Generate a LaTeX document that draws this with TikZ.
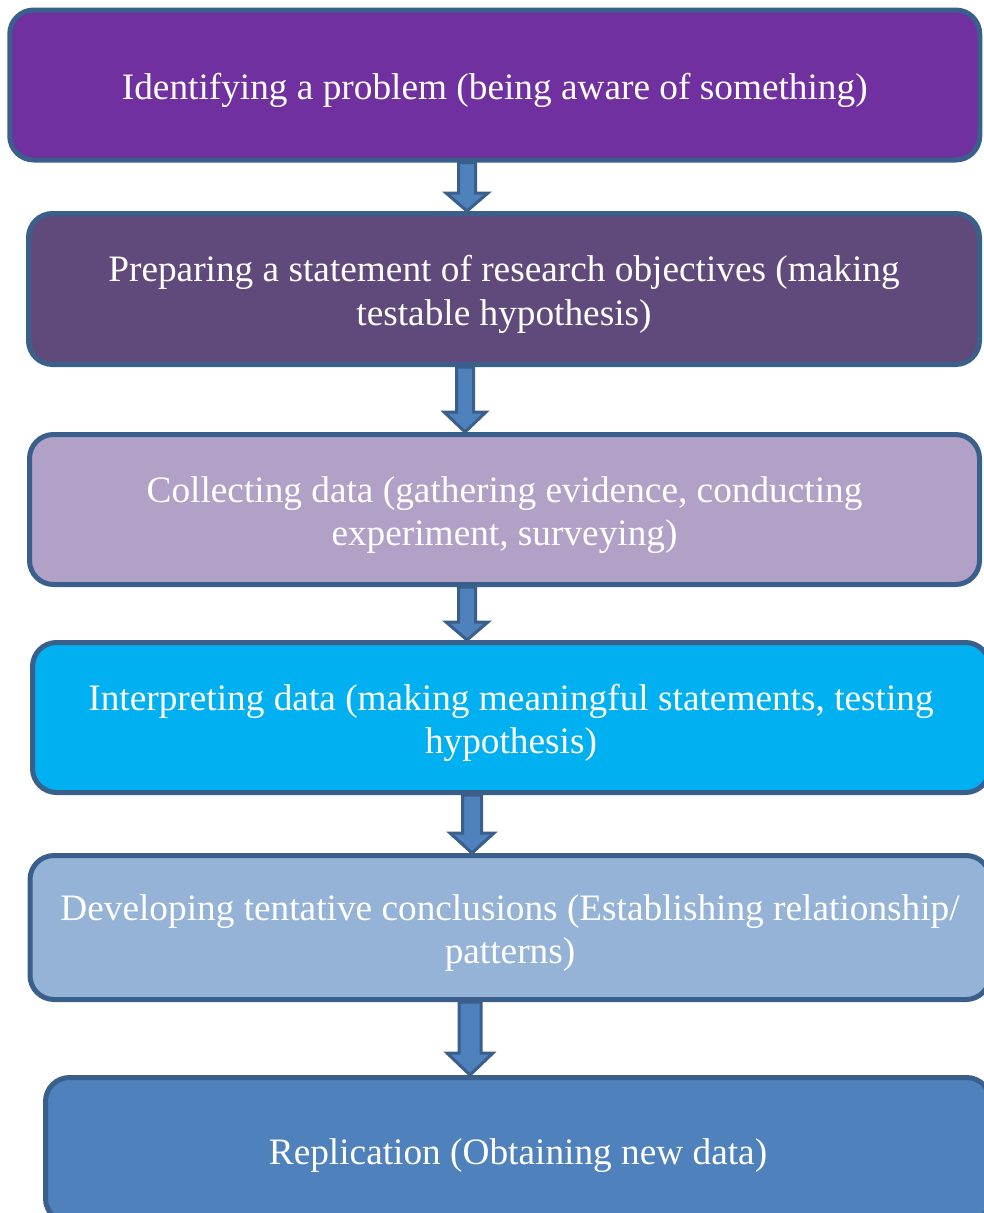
\documentclass[tikz,border=0pt]{standalone}
\usepackage{fontspec}
\setmainfont{Liberation Serif}
\usetikzlibrary{calc}
\definecolor{edge}{HTML}{3A5F8B}
\definecolor{c1}{HTML}{7030A0}
\definecolor{c2}{HTML}{604A7B}
\definecolor{c3}{HTML}{B2A1C7}
\definecolor{c4}{HTML}{00B0F0}
\definecolor{c5}{HTML}{95B3D7}
\definecolor{c6}{HTML}{4F81BD}
\newcommand\lowered[1]{\raisebox{-6pt}[\height][\depth]{\begin{tabular}{@{}c@{}}#1\end{tabular}}}
\tikzset{
  box/.style={draw=edge, line width=5pt, rounded corners=24pt, text=white,
    align=center, inner sep=0pt, font=\fontsize{37.3}{43.5}\selectfont},
  arrowsty/.style={draw=edge, fill=c6, line width=3pt, line join=miter}
}
\newcommand\blockarrow[6]{%
  \draw[arrowsty] let \p1=(#1.south), \p2=(#2.north) in
    (#3pt-#4pt,\y1) -- (#3pt-#4pt,\y2+#6pt) -- (#3pt-#5pt,\y2+#6pt) --
    (#3pt,\y2) -- (#3pt+#5pt,\y2+#6pt) -- (#3pt+#4pt,\y2+#6pt) --
    (#3pt+#4pt,\y1) -- cycle;}
\begin{document}
\begin{tikzpicture}[x=1pt,y=-1pt]
\useasboundingbox (0,0) rectangle (983,1213);
\node[box, fill=c1, minimum width=970pt, minimum height=150pt] (b1) at (494.75,85)
  {\lowered{Identifying a problem (being aware of something)}};
\node[box, fill=c2, minimum width=951pt, minimum height=151pt] (b2) at (504,289)
  {\lowered{Preparing a statement of research objectives (making\\testable hypothesis)}};
\node[box, fill=c3, minimum width=950pt, minimum height=150pt] (b3) at (504.5,509.5)
  {\lowered{Collecting data (gathering evidence, conducting\\experiment, surveying)}};
\node[box, fill=c4, minimum width=957pt, minimum height=150pt] (b4) at (511,717.5)
  {\lowered{Interpreting data (making meaningful statements, testing\\hypothesis)}};
\node[box, fill=c5, minimum width=960pt, minimum height=144pt] (b5) at (510,927.5)
  {\lowered{Developing tentative conclusions (Establishing relationship/\\patterns)}};
\node[box, fill=c6, minimum width=945pt, minimum height=145pt] (b6) at (518,1150)
  {\lowered{Replication (Obtaining new data)}};
\blockarrow{b1}{b2}{467}{8.5}{21}{18}
\blockarrow{b2}{b3}{465}{8.5}{21}{20}
\blockarrow{b3}{b4}{467}{8.5}{21}{18}
\blockarrow{b4}{b5}{472}{9.5}{22}{20}
\blockarrow{b5}{b6}{470}{11}{23}{22}
\end{tikzpicture}
\end{document}
